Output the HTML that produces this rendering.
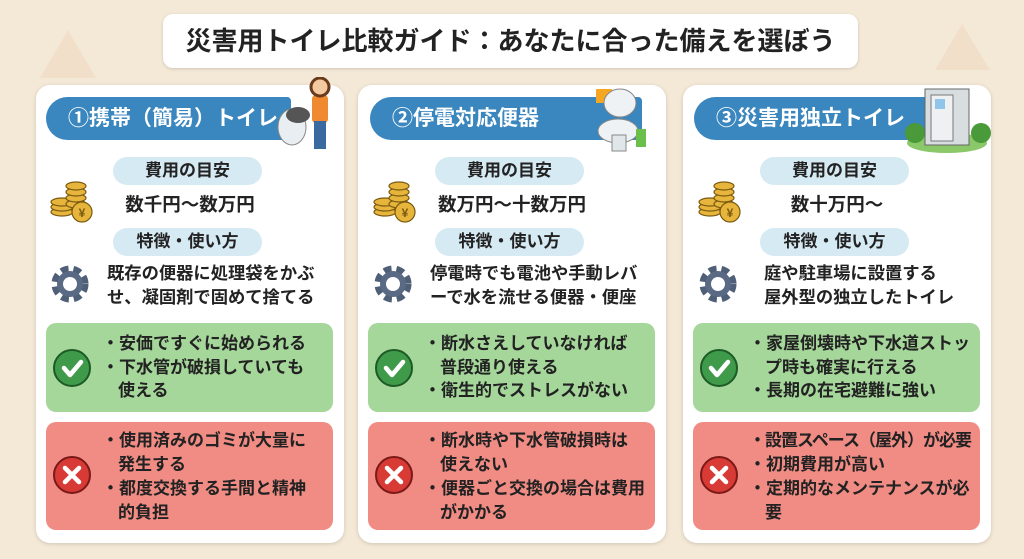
<!DOCTYPE html><html><head><meta charset="utf-8"><style>
*{margin:0;padding:0;box-sizing:border-box}
body{width:1024px;height:559px;overflow:hidden;background:#f4e8d6;font-family:"Liberation Sans","Noto Sans CJK JP",sans-serif;font-weight:bold;color:#222;position:relative}
.title{position:absolute;left:163px;top:14px;width:695px;height:54px;background:#fff;border-radius:10px;text-align:center;line-height:54px;font-size:26px;box-shadow:0 1px 3px rgba(0,0,0,.15)}
.card{position:absolute;top:85px;width:308px;height:458px;background:#fff;border-radius:14px;box-shadow:0 1px 4px rgba(0,0,0,.15)}
.hd{position:absolute;left:10px;top:12px;height:43px;background:#3a86bf;border-radius:22px 4px 4px 22px;color:#fff;font-size:21px;line-height:43px;padding-left:22px}
.pill{position:absolute;left:77px;top:72px;width:149px;height:28px;background:#d6eaf3;border-radius:14px;text-align:center;line-height:28px;font-size:17px}
.cost{position:absolute;left:50px;width:208px;top:106px;text-align:center;font-size:18.5px}
.desc{position:absolute;left:71px;top:176px;font-size:17.3px;line-height:24px;white-space:nowrap}
.g{position:absolute;left:10px;top:238px;width:287px;height:89px;background:#a5d69a;border-radius:10px}
.r{position:absolute;left:10px;top:337px;width:287px;height:108px;background:#f08c84;border-radius:10px}
.lst{position:absolute;left:56px;font-size:17px;line-height:23.5px;white-space:nowrap}
.lst div{padding-left:16px;text-indent:-16px}
.ic{position:absolute}
</style></head><body>
<svg style="position:absolute;left:0;top:0" width="1024" height="559"><g fill="#efdcc4" opacity=".7"><path d="M40 78 L68 30 L96 78Z"/><path d="M935 70 L962 24 L990 70Z"/></g></svg>
<div class="title">災害用トイレ比較ガイド：あなたに合った備えを選ぼう</div>

<div class="card" style="left:36px">
<div class="hd" style="width:245px">①携帯（簡易）トイレ</div>
<svg class="ic" style="left:240px;top:-8px" width="64" height="76"><ellipse cx="16" cy="50" rx="14" ry="18" fill="#e8eef2" stroke="#888"/><rect x="36" y="18" width="16" height="28" rx="4" fill="#f08a30"/><circle cx="44" cy="10" r="9" fill="#f3c9a0" stroke="#6b3a1a" stroke-width="3"/><rect x="38" y="44" width="12" height="28" fill="#3a6aa0"/><ellipse cx="22" cy="38" rx="12" ry="8" fill="#555"/></svg>
<div class="pill">費用の目安</div>
<div class="cost">数千円〜数万円</div>
<div class="pill" style="top:143px">特徴・使い方</div>
<div class="desc">既存の便器に処理袋をかぶ<br>せ、凝固剤で固めて捨てる</div>
<div class="g"><div class="lst" style="top:9px"><div>・安価ですぐに始められる</div><div>・下水管が破損していても<br>使える</div></div></div>
<div class="r"><div class="lst" style="top:7px;line-height:24px"><div>・使用済みのゴミが大量に<br>発生する</div><div>・都度交換する手間と精神<br>的負担</div></div></div>
</div>

<div class="card" style="left:358px">
<div class="hd" style="left:12px;width:272px">②停電対応便器</div>
<svg class="ic" style="left:232px;top:0" width="60" height="70"><rect x="6" y="4" width="16" height="14" fill="#f5a623"/><ellipse cx="30" cy="18" rx="16" ry="14" fill="#eef2f4" stroke="#888"/><ellipse cx="28" cy="46" rx="20" ry="12" fill="#eef2f4" stroke="#888"/><rect x="22" y="50" width="14" height="16" fill="#e0e6ea" stroke="#888"/><rect x="46" y="44" width="10" height="18" fill="#6cbf4a"/></svg>
<div class="pill">費用の目安</div>
<div class="cost">数万円〜十数万円</div>
<div class="pill" style="top:143px">特徴・使い方</div>
<div class="desc" style="left:72px">停電時でも電池や手動レバ<br>ーで水を流せる便器・便座</div>
<div class="g"><div class="lst" style="top:9px"><div>・断水さえしていなければ<br>普段通り使える</div><div>・衛生的でストレスがない</div></div></div>
<div class="r"><div class="lst" style="top:7px;line-height:24px"><div>・断水時や下水管破損時は<br>使えない</div><div>・便器ごと交換の場合は費用<br>がかかる</div></div></div>
</div>

<div class="card" style="left:683px">
<div class="hd" style="left:11px;width:262px">③災害用独立トイレ</div>
<svg class="ic" style="left:222px;top:0" width="86" height="70"><ellipse cx="42" cy="58" rx="40" ry="10" fill="#8bc86a"/><ellipse cx="10" cy="48" rx="10" ry="10" fill="#4a9a3a"/><ellipse cx="76" cy="48" rx="10" ry="10" fill="#4a9a3a"/><rect x="20" y="4" width="44" height="56" fill="#d8dde0" stroke="#666"/><rect x="26" y="10" width="22" height="46" fill="#eef0f2" stroke="#777"/><rect x="30" y="14" width="10" height="10" fill="#8ec5e8"/></svg>
<div class="pill">費用の目安</div>
<div class="cost">数十万円〜</div>
<div class="pill" style="top:143px">特徴・使い方</div>
<div class="desc" style="left:81px">庭や駐車場に設置する<br>屋外型の独立したトイレ</div>
<div class="g"><div class="lst" style="top:9px"><div>・家屋倒壊時や下水道ストッ<br>プ時も確実に行える</div><div>・長期の在宅避難に強い</div></div></div>
<div class="r"><div class="lst" style="top:7px;line-height:24px"><div style="letter-spacing:-1px">・設置スペース（屋外）が必要</div><div>・初期費用が高い</div><div>・定期的なメンテナンスが必<br>要</div></div></div>
</div>

<svg style="position:absolute;left:0;top:0;pointer-events:none" width="1024" height="559">
<defs>
<g id="coin"><g fill="#e7b53c" stroke="#7a5a10" stroke-width="1.2"><ellipse cx="12" cy="30" rx="11" ry="4"/><ellipse cx="12" cy="25" rx="11" ry="4"/><ellipse cx="12" cy="20" rx="11" ry="4"/><ellipse cx="26" cy="22" rx="10" ry="4"/><ellipse cx="26" cy="16" rx="10" ry="4"/><ellipse cx="26" cy="10" rx="10" ry="4"/><ellipse cx="26" cy="4" rx="10" ry="4"/><circle cx="32" cy="30" r="10"/></g><text x="32" y="35" font-size="12" text-anchor="middle" fill="#7a5a10" font-family="Liberation Sans">¥</text></g>
<g id="gear"><circle cx="22" cy="22" r="14" fill="none" stroke="#4f5f78" stroke-width="9" stroke-dasharray="7 4.5"/><circle cx="22" cy="22" r="13" fill="#5a6a84"/><circle cx="22" cy="22" r="7" fill="#fff"/></g>
<g id="ok"><circle cx="0" cy="0" r="18" fill="#3f9a4a" stroke="#1e5a26" stroke-width="2"/><path d="M-8 0 L-2 7 L9 -6" stroke="#fff" stroke-width="4.5" fill="none" stroke-linecap="round" stroke-linejoin="round"/></g>
<g id="ng"><circle cx="0" cy="0" r="18" fill="#d83a36" stroke="#7a1a18" stroke-width="2"/><path d="M-7 -7 L7 7 M7 -7 L-7 7" stroke="#fff" stroke-width="4.5" stroke-linecap="round"/></g>
</defs>
<use href="#coin" x="50" y="182"/><use href="#coin" x="373" y="182"/><use href="#coin" x="698" y="182"/>
<use href="#gear" x="48" y="262"/><use href="#gear" x="371" y="262"/><use href="#gear" x="696" y="262"/>
<use href="#ok" x="72" y="368"/><use href="#ok" x="394" y="368"/><use href="#ok" x="719" y="368"/>
<use href="#ng" x="72" y="475"/><use href="#ng" x="394" y="475"/><use href="#ng" x="719" y="475"/>
</svg>
</body></html>
